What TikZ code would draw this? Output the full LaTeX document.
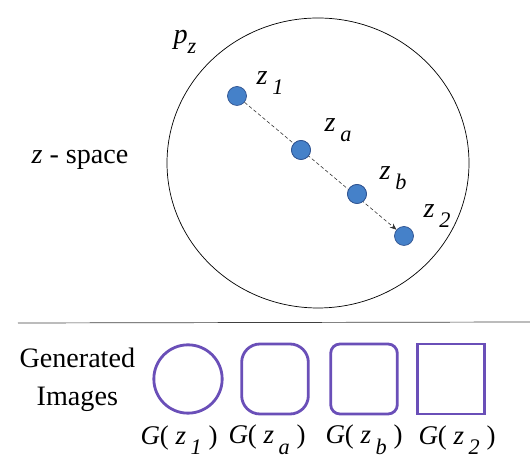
\documentclass[tikz,border=0pt]{standalone}
\usepackage{fontspec}
\setmainfont{LiberationSerif}[Extension=.ttf, UprightFont=*-Regular,
  ItalicFont=*-Italic, BoldFont=*-Bold, BoldItalicFont=*-BoldItalic]
\usetikzlibrary{arrows.meta, positioning, shapes.geometric}
\definecolor{dotblue}{HTML}{4581C9}
\definecolor{dotedge}{HTML}{2F528F}
\definecolor{imgpurple}{HTML}{6A4FB8}
\newcommand{\lsub}[1]{\raisebox{-9pt}{\fontsize{19}{19}\selectfont\itshape #1}}

\begin{document}
\begin{tikzpicture}[
  dot/.style={circle, draw=dotedge, fill=dotblue, line width=0.6pt,
              minimum size=0.57cm, inner sep=0pt},
  zlbl/.style={font=\fontsize{24}{28}\selectfont\itshape, inner sep=0pt},
  shp/.style={draw=imgpurple, line width=2.4pt, minimum width=2.0cm,
              minimum height=2.1cm, inner sep=0pt},
  glbl/.style={font=\fontsize{23}{28}\selectfont, inner sep=0pt},
  arr/.style={-{Stealth[length=2mm, width=1.6mm]}, line width=0.5pt,
              black!80, dash pattern=on 3pt off 2pt}
]
\useasboundingbox (0,0) rectangle (15.9,14.04);

% === z-space ===
\node[ellipse, draw, line width=0.6pt, minimum width=9.06cm,
      minimum height=8.7cm] (space) at (9.54, 9.15) {};
\node[zlbl] (pz) at (5.55, 12.78) {p\lsub{z}};
\node[font=\fontsize{24}{28}\selectfont, inner sep=0pt] (zname) at (2.40, 9.24)
  {\textit{z} - space};

% === latent points ===
\node[dot] (z1) at ( 7.11, 11.16) {};
\node[dot] (za) at ( 9.03,  9.54) {};
\node[dot] (zb) at (10.71,  8.22) {};
\node[dot] (z2) at (12.12,  6.96) {};

% interpolation path, middle dots redrawn on top
\draw[arr] (z1) -- (z2);
\node[dot] at (za) {};
\node[dot] at (zb) {};

\node[zlbl] (lz1) at ( 8.10, 11.55) {z\,\lsub{1}};
\node[zlbl] (lza) at (10.14, 10.14) {z\,\lsub{a}};
\node[zlbl] (lzb) at (11.79,  8.70) {z\,\lsub{b}};
\node[zlbl] (lz2) at (13.11,  7.56) {z\,\lsub{2}};

% === separator ===
\coordinate (sepL) at (0.54, 4.35);
\coordinate (sepR) at (15.9, 4.38);
\draw[line width=0.6pt, black!75] (sepL) -- (sepR);

% === generated images ===
\node[font=\fontsize{24}{32}\selectfont, align=center, inner sep=0pt]
  (gen) at (2.32, 2.64) {Generated\\Images};

\node[shp, circle, minimum size=2.05cm]           (g1) at ( 5.64, 2.67) {};
\node[shp, rectangle, rounded corners=0.55cm]     (ga) at ( 8.25, 2.67) {};
\node[shp, rectangle, rounded corners=0.28cm]     (gb) at (10.92, 2.67) {};
\node[shp, rectangle]                             (g2) at (13.53, 2.67) {};

\node[glbl] (gl1) at ( 5.37, 0.84) {\textit{G}( \textit{z}\,\lsub{1} )};
\node[glbl] (gla) at ( 8.01, 0.84) {\textit{G}( \textit{z}\,\lsub{a} )};
\node[glbl] (glb) at (10.92, 0.84) {\textit{G}( \textit{z}\,\lsub{b} )};
\node[glbl] (gl2) at (13.71, 0.84) {\textit{G}( \textit{z}\,\lsub{2} )};

\end{tikzpicture}
\end{document}
